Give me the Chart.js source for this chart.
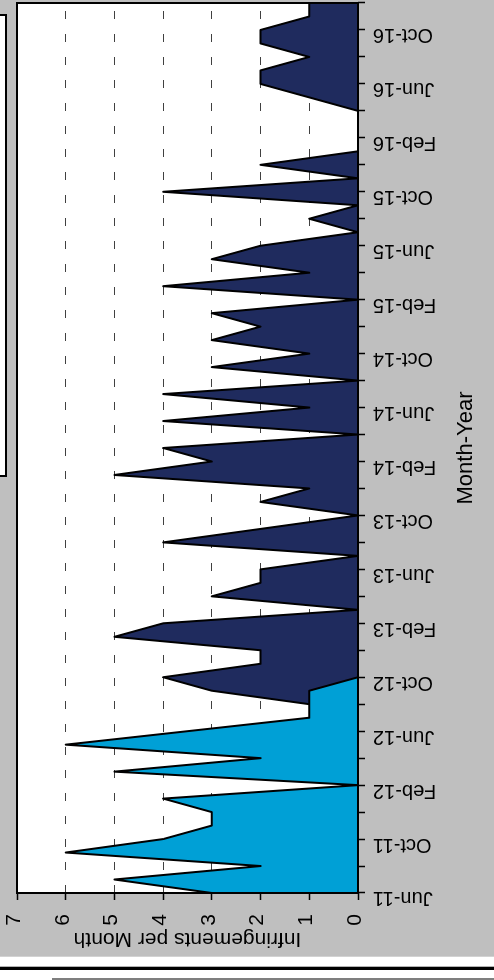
<!DOCTYPE html>
<html>
<head>
<meta charset="utf-8">
<script src="https://cdn.jsdelivr.net/npm/chart.js@4.4.1/dist/chart.umd.min.js"></script>
<style>
html,body{margin:0;padding:0;background:#ffffff;overflow:hidden;width:494px;height:980px;}
#wrap{position:absolute;left:0;top:0;width:980px;height:494px;transform-origin:0 0;transform:translateY(980px) rotate(-90deg);}
canvas{display:block;}
</style>
</head>
<body>
<div id="wrap"><canvas id="c" width="980" height="494"></canvas></div>
<script>
// Categories (monthly, Jun-11 .. Dec-16)
const months = [
  'Jun-11','Jul-11','Aug-11','Sep-11','Oct-11','Nov-11','Dec-11',
  'Jan-12','Feb-12','Mar-12','Apr-12','May-12','Jun-12','Jul-12','Aug-12','Sep-12','Oct-12','Nov-12','Dec-12',
  'Jan-13','Feb-13','Mar-13','Apr-13','May-13','Jun-13','Jul-13','Aug-13','Sep-13','Oct-13','Nov-13','Dec-13',
  'Jan-14','Feb-14','Mar-14','Apr-14','May-14','Jun-14','Jul-14','Aug-14','Sep-14','Oct-14','Nov-14','Dec-14',
  'Jan-15','Feb-15','Mar-15','Apr-15','May-15','Jun-15','Jul-15','Aug-15','Sep-15','Oct-15','Nov-15','Dec-15',
  'Jan-16','Feb-16','Mar-16','Apr-16','May-16','Jun-16','Jul-16','Aug-16','Sep-16','Oct-16','Nov-16','Dec-16'
];
// Labels shown on the month axis
const shownMonthLabels = ['Jun-11','Oct-11','Feb-12','Jun-12','Oct-12','Feb-13','Jun-13','Oct-13','Feb-14',
  'Jun-14','Oct-14','Feb-15','Jun-15','Oct-15','Feb-16','Jun-16','Oct-16'];
// Value axis ticks
const valueTicks = [0,1,2,3,4,5,6,7];

// Series 1 (light blue): Jun-11 .. Oct-12
const seriesEarly = [3,5,2,6,4,3,3,4,0,5,2,6,3.5,1,1,1,0,
  null,null,null,null,null,null,null,null,null,null,null,null,null,null,null,null,null,null,null,null,null,
  null,null,null,null,null,null,null,null,null,null,null,null,null,null,null,null,null,null,null,null,null,
  null,null,null,null,null,null,null,null];
// Series 2 (navy): Aug-12 .. Dec-16
const seriesLate = [null,null,null,null,null,null,null,null,null,null,null,null,null,null,
  1,3,4,2,2,5,4,0,3,2,2,0,4,2,0,2,1,5,3,4,0,4,1,4,0,3,1,3,2,3,0,4,1,3,2,0,1,0,4,0,2,0,0,0,0,1,2,2,1,2,2,1,1];

const frame = {
  id: 'frame',
  beforeDraw(chart) {
    const {ctx, chartArea: a, width, height} = chart;
    ctx.save();
    ctx.fillStyle = '#ffffff';
    ctx.fillRect(0, 0, width, height);
    ctx.fillStyle = '#bfbfbf';
    ctx.fillRect(23.3, 0, width - 23.3, height);
    ctx.fillStyle = '#ffffff';
    ctx.fillRect(a.left, a.top, a.right - a.left, a.bottom - a.top);
    // legend box, mostly outside the page
    ctx.fillStyle = '#ffffff';
    ctx.fillRect(504, -10, 461, 16);
    ctx.strokeStyle = '#000000';
    ctx.lineWidth = 2;
    ctx.strokeRect(504, -10, 461, 16);
    // page rules
    ctx.fillStyle = '#000000';
    ctx.fillRect(10, 0, 3.3, height);
    ctx.fillRect(0.5, 52, 1, height - 52);
    ctx.restore();
  },
  afterDatasetsDraw(chart) {
    const {ctx, chartArea: a} = chart;
    ctx.save();
    ctx.strokeStyle = '#000000';
    ctx.lineWidth = 2;
    ctx.strokeRect(a.left, a.top, a.right - a.left, a.bottom - a.top);
    ctx.restore();
  }
};

Chart.defaults.font.family = '"Liberation Sans", Arial, sans-serif';
Chart.defaults.color = '#000000';

new Chart(document.getElementById('c'), {
  type: 'line',
  data: {
    labels: months,
    datasets: [
      {label: 'Early', data: seriesEarly, backgroundColor: '#00a0d6', borderColor: '#000000',
       borderWidth: 2, borderJoinStyle: 'round', pointRadius: 0, tension: 0, fill: 'origin', spanGaps: false},
      {label: 'Late', data: seriesLate, backgroundColor: '#1f2b5e', borderColor: '#000000',
       borderWidth: 2, borderJoinStyle: 'round', pointRadius: 0, tension: 0, fill: 'origin', spanGaps: false}
    ]
  },
  options: {
    responsive: false,
    animation: false,
    devicePixelRatio: 1,
    layout: {padding: {left: 0, right: 3, top: 17, bottom: 0}},
    plugins: {legend: {display: false}, tooltip: {enabled: false}},
    scales: {
      x: {
        offset: false,
        ticks: {
          autoSkip: false, minRotation: 90, maxRotation: 90, color: '#000000',
          font: {size: 20}, padding: 8, labelOffset: -5,
          callback: (v, i) => shownMonthLabels.includes(months[i]) && i % 4 === 0 ? months[i] : ''
        },
        grid: {
          drawOnChartArea: false, drawTicks: true, tickLength: 7, tickWidth: 1.5,
          tickColor: (c) => (c.index % 2 === 0 ? '#000000' : 'rgba(0,0,0,0)')
        },
        border: {display: false},
        title: {display: true, text: 'Month-Year', color: '#000000',
                font: {size: 22, lineHeight: 1}, padding: {top: 0, bottom: 17}},
        afterFit(s) { s.height = 136; s.paddingLeft = 0; s.paddingRight = 0; }
      },
      y: {
        min: valueTicks[0], max: valueTicks[valueTicks.length - 1],
        ticks: {stepSize: 1, color: '#000000', font: {size: 21}, padding: 14, labelOffset: -3},
        grid: {color: '#404040', lineWidth: 1, tickLength: 7, tickColor: '#000000', tickWidth: 1.5},
        border: {display: false, dash: [8, 15]},
        title: {display: true, text: 'Infringements per Month', color: '#000000',
                font: {size: 21, lineHeight: 1}, padding: {top: 31, bottom: 0}},
        afterFit(s) { s.width = 87; s.paddingTop = 0; s.paddingBottom = 0; }
      }
    }
  },
  plugins: [frame]
});
</script>
</body>
</html>
